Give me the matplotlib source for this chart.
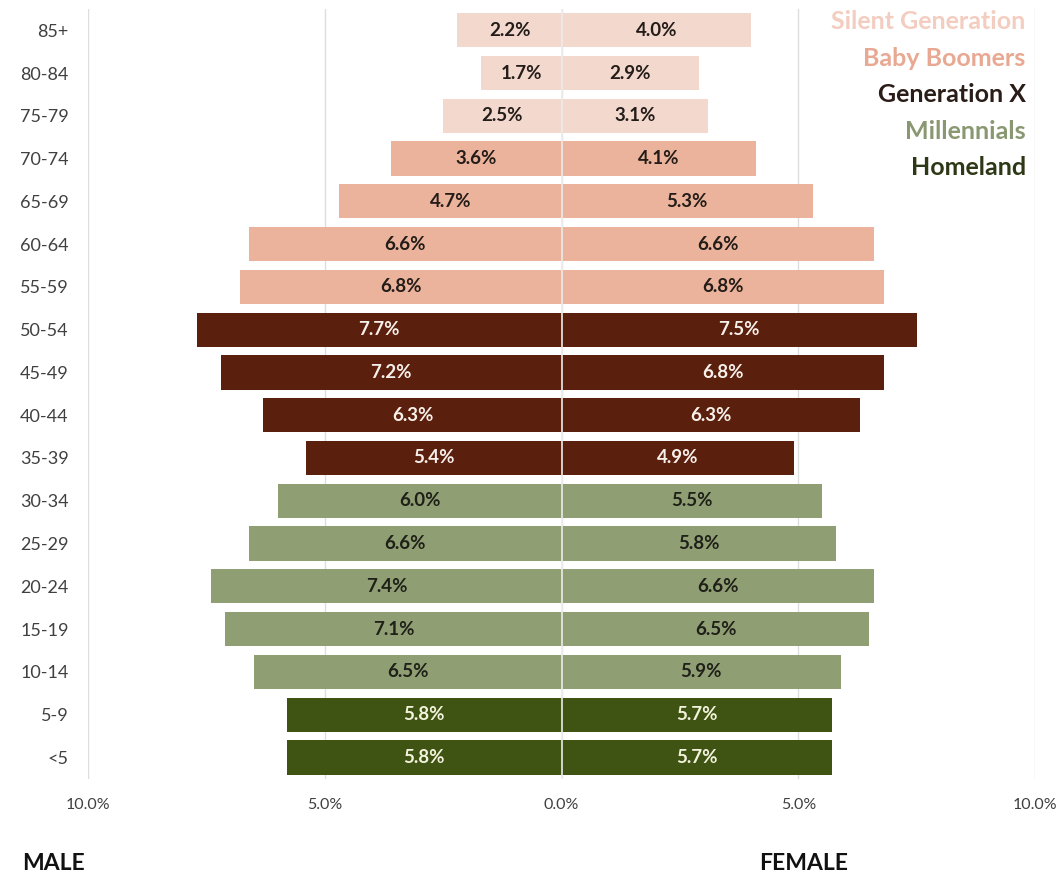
import matplotlib
matplotlib.use("Agg")
import matplotlib.pyplot as plt
from matplotlib.ticker import FuncFormatter

plt.rcParams['font.family'] = ['Lato', 'DejaVu Sans']

# Age groups, oldest at the top
age_groups = ["85+", "80-84", "75-79", "70-74", "65-69", "60-64", "55-59",
              "50-54", "45-49", "40-44", "35-39", "30-34", "25-29", "20-24",
              "15-19", "10-14", "5-9", "<5"]
male = [2.2, 1.7, 2.5, 3.6, 4.7, 6.6, 6.8, 7.7, 7.2, 6.3, 5.4,
        6.0, 6.6, 7.4, 7.1, 6.5, 5.8, 5.8]
female = [4.0, 2.9, 3.1, 4.1, 5.3, 6.6, 6.8, 7.5, 6.8, 6.3, 4.9,
          5.5, 5.8, 6.6, 6.5, 5.9, 5.7, 5.7]
generation = ["Silent Generation"] * 3 + ["Baby Boomers"] * 4 + \
             ["Generation X"] * 4 + ["Millennials"] * 5 + ["Homeland"] * 2

generations = ["Silent Generation", "Baby Boomers", "Generation X",
               "Millennials", "Homeland"]
bar_colors = {"Silent Generation": "#F3D8CE", "Baby Boomers": "#EBB39B",
              "Generation X": "#5B1F0D", "Millennials": "#909E74",
              "Homeland": "#3F5413"}
label_colors = {"Silent Generation": "#231c18", "Baby Boomers": "#231c18",
                "Generation X": "#F7F0EA", "Millennials": "#1f2018",
                "Homeland": "#F3F2DC"}
legend_colors = {"Silent Generation": "#F3CDBF", "Baby Boomers": "#E9A892",
                 "Generation X": "#2A1C16", "Millennials": "#8A9872",
                 "Homeland": "#2D3816"}

fig = plt.figure(figsize=(10.62, 8.84), dpi=100)
ax = fig.add_axes([0.083, 0.119, 0.8917, 0.871])

y = list(range(len(age_groups)))
colors = [bar_colors[g] for g in generation]
ax.barh(y, [-m for m in male], height=0.8, color=colors, zorder=2)
ax.barh(y, female, height=0.8, color=colors, zorder=2)
ax.axvline(0, color="#ececec", lw=1.2, zorder=3)

# value labels in the middle of each bar
for i, g in enumerate(generation):
    ax.text(-male[i] / 2, i, f"{male[i]:.1f}%", ha="center", va="center",
            fontsize=13.5, fontweight="bold", color=label_colors[g], zorder=4)
    ax.text(female[i] / 2, i, f"{female[i]:.1f}%", ha="center", va="center",
            fontsize=13.5, fontweight="bold", color=label_colors[g], zorder=4)

ax.set_xlim(-10, 10)
ax.set_ylim(len(age_groups) - 0.5, -0.5)
ax.set_yticks(y)
ax.set_yticklabels(age_groups)
ax.set_xticks([-10, -5, 0, 5, 10])
ax.xaxis.set_major_formatter(FuncFormatter(lambda v, p: f"{abs(v):.1f}%"))
ax.tick_params(length=0, labelcolor="#404040")
ax.tick_params(axis="y", pad=14, labelsize=13)
ax.tick_params(axis="x", pad=14, labelsize=11.5)
ax.grid(axis="x", color="#dedede", lw=1, zorder=0)
for s in ax.spines.values():
    s.set_visible(False)

# generation legend as coloured text
for k, g in enumerate(generations):
    ax.text(0.99, 0.983 - k * 0.0474, g, transform=ax.transAxes, ha="right",
            va="center", fontsize=18, fontweight="bold",
            color=legend_colors[g], zorder=5)

fig.text(0.021, 0.016, "MALE", fontsize=16.5, fontweight="bold", color="#111111")
fig.text(0.715, 0.016, "FEMALE", fontsize=16.5, fontweight="bold", color="#111111")

fig.savefig("out.png", dpi=100, facecolor="white")
